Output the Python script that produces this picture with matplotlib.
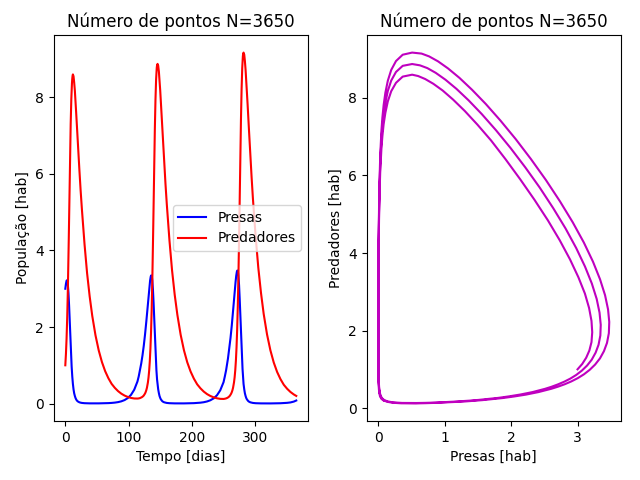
import matplotlib
matplotlib.use("Agg")
import matplotlib.pyplot as plt

# Lotka-Volterra run, N=3650 points over 365 days
tempo = [
    0, 0.5, 1, 1.5, 2, 2.5, 3, 3.5, 4, 4.5, 5, 5.5, 6, 6.5, 7, 7.5, 8, 8.5, 9, 9.5, 10, 10.5, 11, 11.5, 12,
    13.0, 14.0, 15.1, 16.1, 17.1, 18.1, 19.1, 20.2, 22.2, 24.2, 26.3, 30.4, 34.4, 38.5, 42.6,
    47.7, 52.8, 57.9, 63.0, 68.1, 73.2, 78.3, 83.4, 88.5, 93.6, 98.7, 103.8, 108.9, 114,
    116, 118, 120, 121, 122, 123, 124, 125, 126, 127, 128, 129, 130,
    130.5, 131, 131.5, 132, 132.5, 133, 133.5, 134,
    134.5, 135, 135.5, 136, 136.5, 137, 137.5, 138, 138.5, 139, 139.5, 140,
    140.5, 141, 141.5, 142, 142.5, 143, 143.5, 144, 144.5, 145, 145.8,
    146.8, 147.9, 148.9, 150.0, 151.0, 152.1, 153.1, 154.1, 156.2, 158.3, 160.4, 164.6, 168.7, 172.9, 177.1,
    182.3, 187.5, 192.7, 198.0, 203.2, 208.4, 213.6, 218.8, 224.0, 229.2, 234.5, 239.7, 244.9, 250.1,
    252.1, 254.1, 256.1, 257.1, 258.1, 259.1, 260.1, 261.1, 262.1, 263.1, 264.1, 265.1, 266.1,
    266.6, 267.1, 267.6, 268.1, 268.6, 269.1, 269.6, 270.1,
    270.6, 271.1, 271.6, 272.1, 272.6, 273.1, 273.6, 274.1, 274.6, 275.1, 275.6, 276.1,
    276.6, 277.1, 277.6, 278.1, 278.6, 279.1, 279.6, 280.1, 280.6, 281.1, 281.7,
    282.8, 283.8, 284.9, 285.9, 287.0, 288.1, 289.1, 290.2, 292.3, 294.4, 296.5, 300.8, 305.0, 309.3, 313.5,
    318.8, 324.1, 329.4, 334.7, 340.0, 345.3, 350.6, 355.9, 361.2, 365.0,
]

presas = [
    3.000, 3.070, 3.130, 3.178, 3.210, 3.221, 3.210, 3.174, 3.111, 3.013, 2.887, 2.733, 2.555,
    2.352, 2.137, 1.918, 1.700, 1.496, 1.305, 1.129, 0.971, 0.831, 0.709, 0.603, 0.513,
    0.371, 0.270, 0.198, 0.147, 0.1106, 0.084, 0.0655, 0.0515, 0.0334, 0.0235, 0.0165, 0.0099, 0.0070, 0.0056, 0.0051,
    0.0051, 0.0056, 0.0068, 0.0088, 0.0121, 0.0172, 0.0253, 0.0381, 0.0585, 0.0910, 0.143, 0.2266, 0.361, 0.576,
    0.708, 0.872, 1.049, 1.150, 1.261, 1.380, 1.511, 1.651, 1.805, 1.965, 2.140, 2.323, 2.511,
    2.607, 2.703, 2.799, 2.892, 2.981, 3.066, 3.144, 3.214,
    3.272, 3.316, 3.343, 3.349, 3.331, 3.288, 3.215, 3.112, 2.980, 2.820, 2.634, 2.431,
    2.214, 1.993, 1.773, 1.561, 1.362, 1.179, 1.014, 0.868, 0.741, 0.630, 0.513,
    0.371, 0.270, 0.198, 0.147, 0.1106, 0.0844, 0.0655, 0.0515, 0.0334, 0.0235, 0.0165, 0.0097, 0.0066, 0.0052, 0.0046,
    0.0046, 0.0048, 0.0061, 0.0080, 0.0110, 0.0158, 0.0235, 0.0355, 0.0550, 0.0860, 0.1360, 0.2170, 0.3480, 0.5600,
    0.708, 0.870, 1.067, 1.181, 1.309, 1.433, 1.569, 1.715, 1.874, 2.041, 2.222, 2.412, 2.608,
    2.707, 2.807, 2.906, 3.003, 3.096, 3.183, 3.264, 3.337,
    3.397, 3.443, 3.471, 3.477, 3.459, 3.414, 3.338, 3.232, 3.095, 2.928, 2.735, 2.524,
    2.299, 2.070, 1.841, 1.621, 1.414, 1.224, 1.053, 0.902, 0.769, 0.655, 0.513,
    0.371, 0.270, 0.198, 0.147, 0.1106, 0.0844, 0.0655, 0.0515, 0.0334, 0.0235, 0.0165, 0.0095, 0.0063, 0.0049, 0.0042,
    0.0041, 0.0040, 0.0049, 0.0062, 0.0088, 0.0128, 0.0192, 0.0300, 0.0520, 0.0800,
]

predadores = [
    1.000, 1.137, 1.298, 1.485, 1.702, 1.956, 2.248, 2.580, 2.954, 3.375, 3.835, 4.327, 4.841,
    5.374, 5.904, 6.418, 6.903, 7.309, 7.663, 7.957, 8.193, 8.366, 8.488, 8.565, 8.600,
    8.550, 8.390, 8.173, 7.910, 7.618, 7.320, 7.014, 6.710, 6.120, 5.570, 5.060, 4.160, 3.410, 2.800, 2.290,
    1.784, 1.390, 1.084, 0.846, 0.662, 0.515, 0.410, 0.325, 0.259, 0.2095, 0.173, 0.1477, 0.1332, 0.1311,
    0.135, 0.143, 0.157, 0.1668, 0.178, 0.1927, 0.211, 0.2345, 0.263, 0.3013, 0.350, 0.413, 0.497,
    0.549, 0.610, 0.680, 0.761, 0.856, 0.968, 1.098, 1.250,
    1.430, 1.633, 1.872, 2.147, 2.461, 2.815, 3.213, 3.652, 4.128, 4.633, 5.158, 5.689,
    6.210, 6.708, 7.169, 7.582, 7.938, 8.235, 8.470, 8.647, 8.770, 8.841, 8.875,
    8.828, 8.670, 8.447, 8.178, 7.881, 7.571, 7.256, 6.943, 6.335, 5.744, 5.208, 4.262, 3.481, 2.842, 2.319,
    1.797, 1.393, 1.080, 0.837, 0.651, 0.503, 0.398, 0.313, 0.2475, 0.1987, 0.1628, 0.1380, 0.1235, 0.1206,
    0.126, 0.135, 0.149, 0.1597, 0.171, 0.1866, 0.205, 0.2295, 0.259, 0.298, 0.347, 0.4127, 0.4992,
    0.5529, 0.6151, 0.6876, 0.772, 0.871, 0.987, 1.122, 1.281,
    1.468, 1.681, 1.931, 2.221, 2.545, 2.912, 3.324, 3.778, 4.270, 4.792, 5.335, 5.884,
    6.424, 6.939, 7.416, 7.843, 8.210, 8.518, 8.761, 8.944, 9.071, 9.144, 9.170,
    9.115, 8.951, 8.721, 8.443, 8.137, 7.816, 7.492, 7.168, 6.541, 5.919, 5.356, 4.365, 3.550, 2.886, 2.344,
    1.807, 1.393, 1.074, 0.828, 0.640, 0.491, 0.386, 0.302, 0.237, 0.200,
]

assert len(tempo) == len(presas) == len(predadores)

titulo = "Número de pontos N=3650"

fig, (ax1, ax2) = plt.subplots(1, 2, figsize=(6.4, 4.8), dpi=100)
fig.subplots_adjust(left=0.084, right=0.970, bottom=0.123, top=0.927, wspace=0.232)

# -- evolucao temporal
ax1.plot(tempo, presas, "b", label="Presas")
ax1.plot(tempo, predadores, "r", label="Predadores")
ax1.set_xlabel("Tempo [dias]")
ax1.set_ylabel("População [hab]")
ax1.set_title(titulo)
ax1.legend(loc="center right")

# -- espaco de fase
ax2.plot(presas, predadores, "m")
ax2.set_xlabel("Presas [hab]")
ax2.set_ylabel("Predadores [hab]")
ax2.set_title(titulo)

plt.savefig("out.png", dpi=100)
